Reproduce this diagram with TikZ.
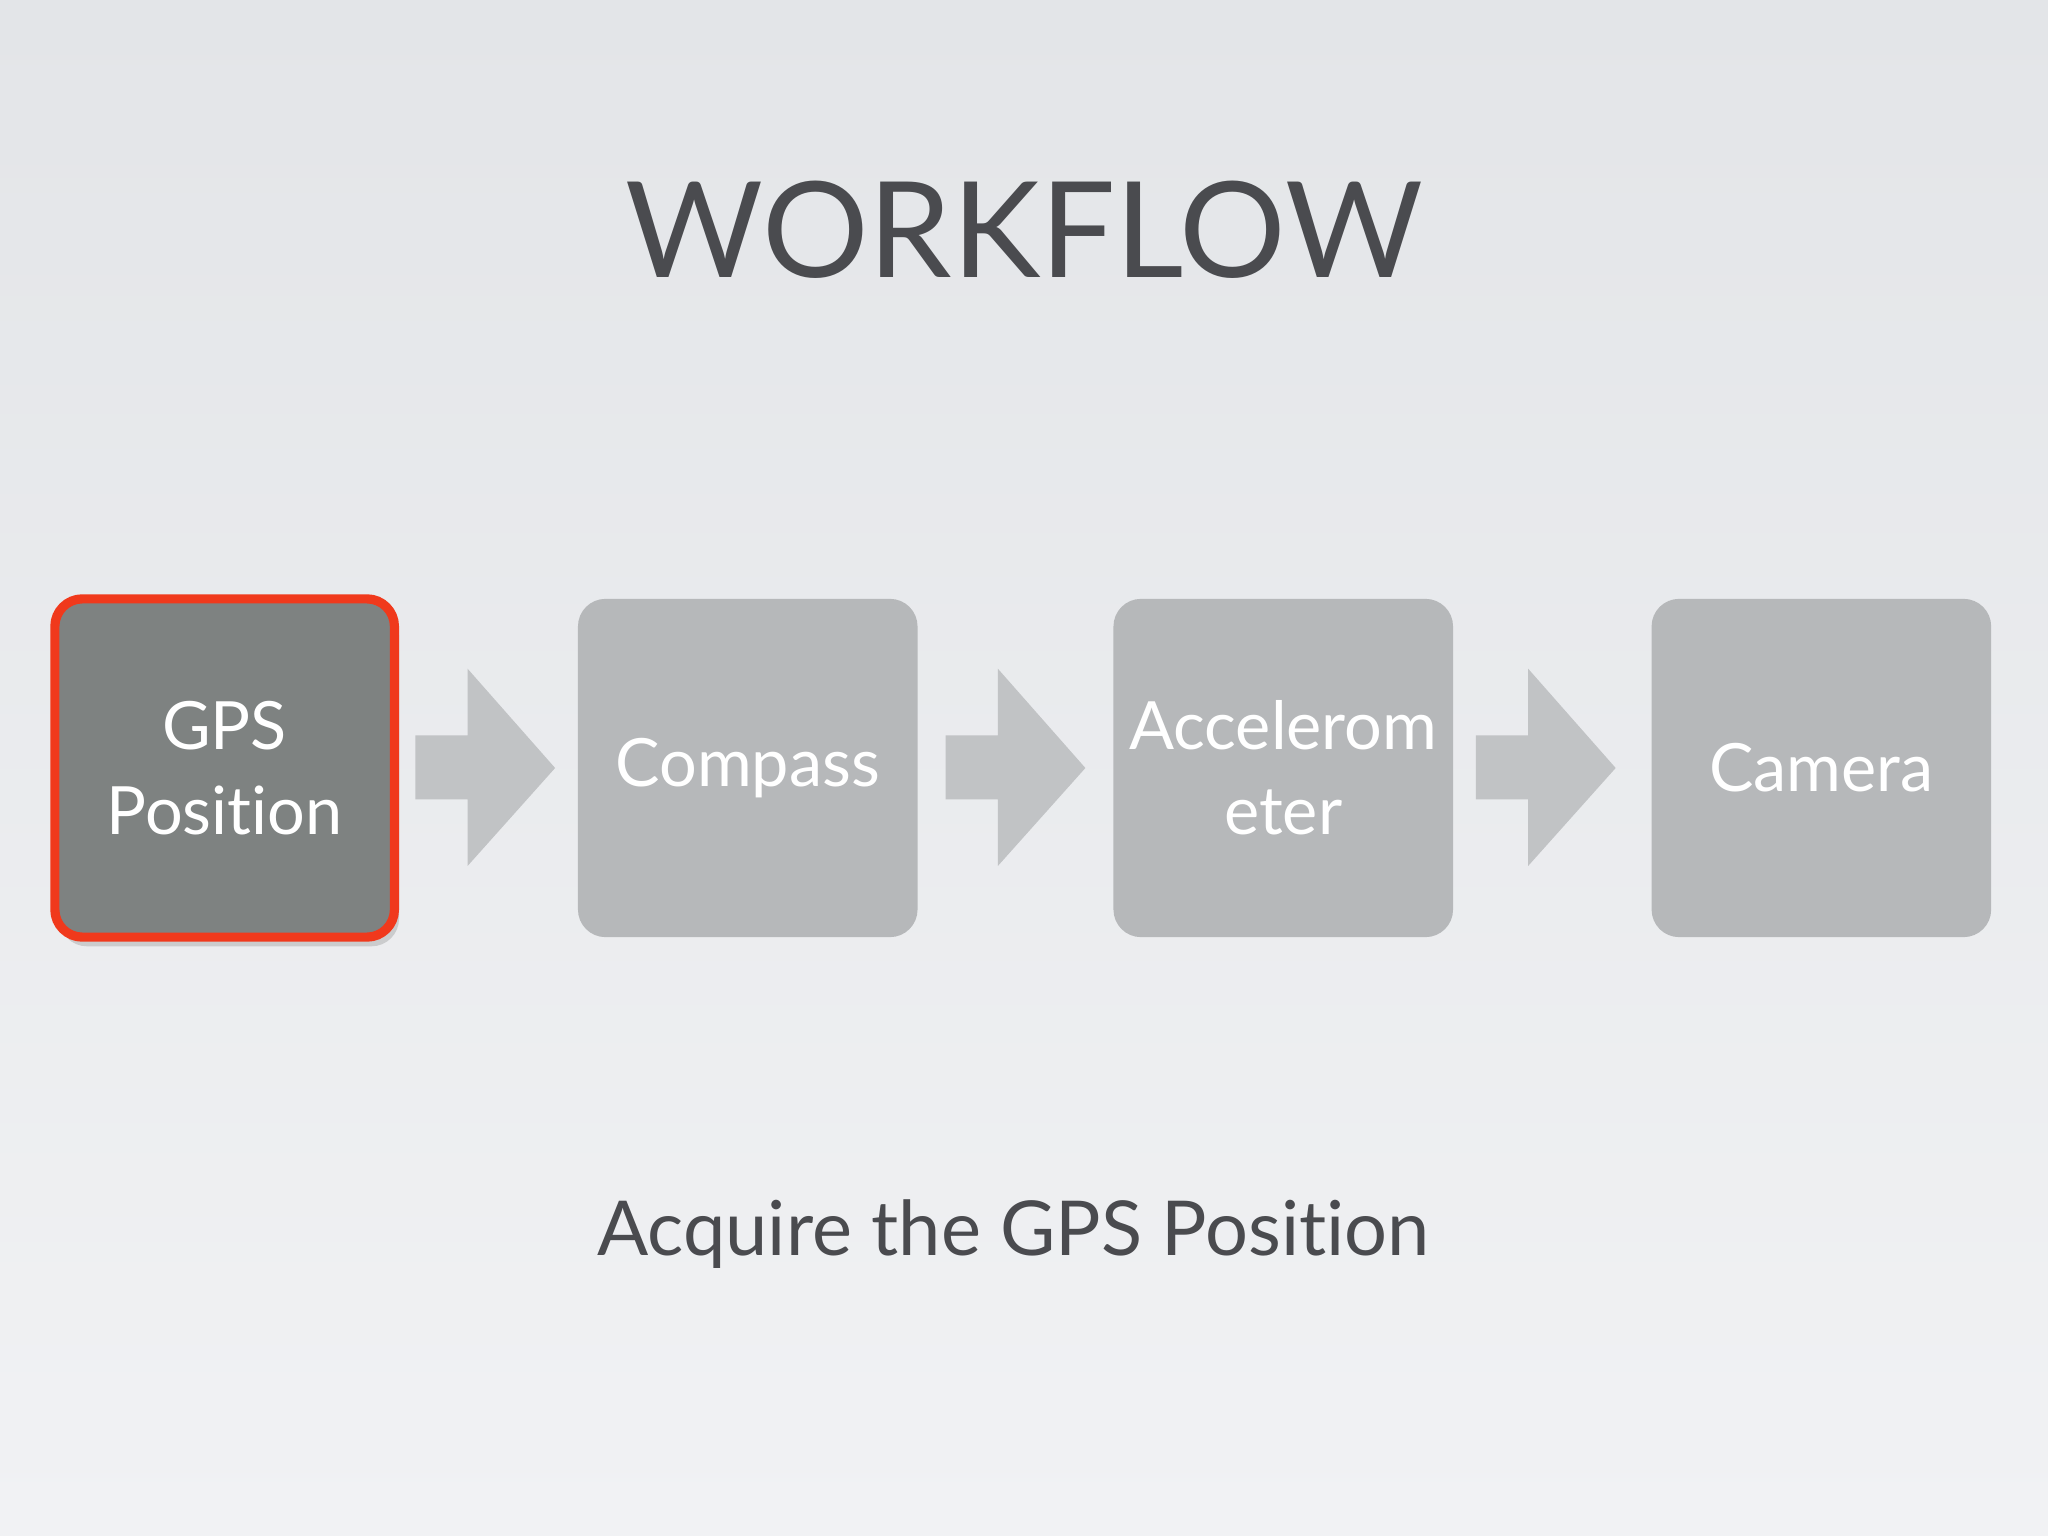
\documentclass[tikz,border=0pt]{standalone}
\usepackage{fontspec}
\setmainfont[Ligatures={NoCommon}]{Lato}
\usetikzlibrary{shadows}
\definecolor{bgtop}{HTML}{E3E5E8}
\definecolor{bgbot}{HTML}{F1F2F4}
\definecolor{dark}{HTML}{7E8281}
\definecolor{light}{HTML}{B6B8BA}
\definecolor{arr}{HTML}{C1C3C5}
\definecolor{txt}{HTML}{4A4B4F}
\definecolor{redb}{HTML}{F0391C}
\tikzset{
 box/.style={rounded corners=6pt, fill=light, minimum width=260*0.01cm, minimum height=259*0.01cm, text width=240*0.01cm, inner sep=0pt, text=white, align=center, font=\fontsize{14.5}{18.5}\selectfont},
 flowarrow/.style={fill=arr},
}
\begin{document}
\begin{tikzpicture}[x={(0.01cm,0)},y={(0,-0.01cm)}]
\shade[top color=bgtop,bottom color=bgbot] (0,0) rectangle (1568,1176);
\useasboundingbox (0,0) rectangle (1568,1176);
\node[text=txt,font=\fontsize{29}{34}\selectfont] (title) at (784,176) {WORKFLOW};
\node[box, fill=dark, draw=redb, line width=2pt, drop shadow={opacity=0.3,shadow xshift=1pt,shadow yshift=-2pt}] (gps) at (172,588) {GPS\\Position};
\node[box] (comp) at (572.5,588) {Compass};
\node[box] (acc) at (982.5,588) {Accelerom\\eter};
\node[box] (cam) at (1394.5,588) {Camera};
\foreach \a in {318,724,1130}{
 \fill[flowarrow] (\a,563) -- (\a+40,563) -- (\a+40,512) -- (\a+107,588) -- (\a+40,663) -- (\a+40,612) -- (\a,612) -- cycle;
}
\node[text=txt,font=\fontsize{16.5}{20}\selectfont] (cap) at (776,945) {Acquire the GPS Position};
\end{tikzpicture}
\end{document}
